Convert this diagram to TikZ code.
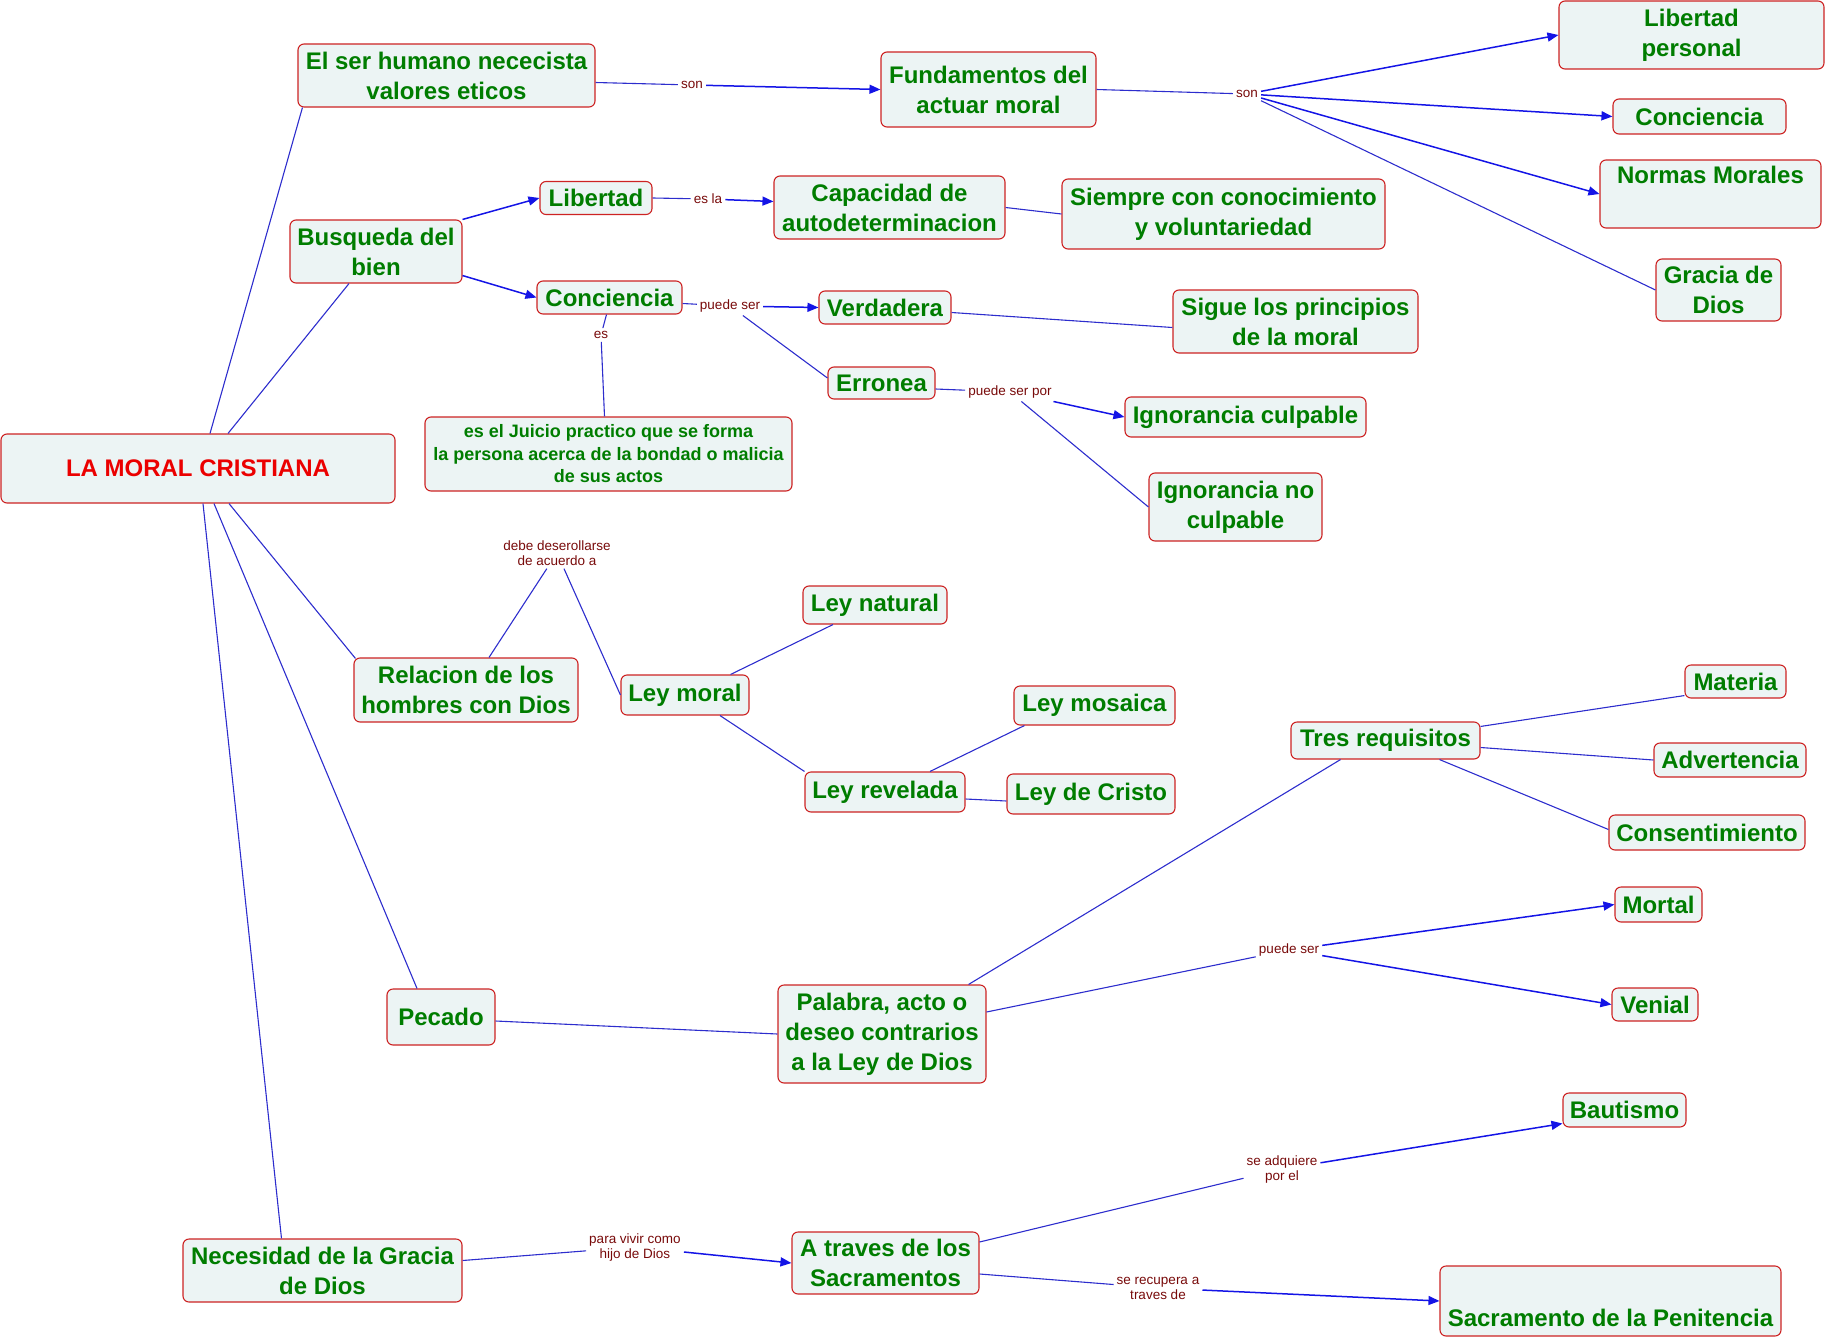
\documentclass[tikz,border=0pt]{standalone}
\usepackage{fontspec}
\setmainfont{Liberation Sans}
\usetikzlibrary{arrows.meta,calc}
\definecolor{nodered}{RGB}{205,35,35}
\definecolor{nodefill}{RGB}{236,244,244}
\definecolor{cgreen}{RGB}{0,125,0}
\definecolor{lmcred}{RGB}{235,0,0}
\definecolor{lred}{RGB}{120,10,10}
\definecolor{lblue}{RGB}{45,45,205}
\definecolor{ablue}{RGB}{20,20,230}
\tikzset{
  concept/.style={draw=nodered, fill=nodefill, rounded corners=6pt, line width=1.1pt,
    text=cgreen, font=\bfseries\fontsize{24}{30}\selectfont, align=center, inner sep=0pt},
  sz/.style 2 args={minimum width=#1pt, minimum height=#2pt},
  linkph/.style={text=lred, font=\fontsize{13.5}{15}\selectfont, align=center, inner sep=3pt},
  conn/.style={draw=lblue, line width=1.1pt},
  arr/.style={draw=ablue, line width=1.5pt, -{Triangle[length=11pt,width=9pt]}}
}
\begin{document}
\begin{tikzpicture}[x=1pt,y=-1pt]
\useasboundingbox (0,0) rectangle (1826,1338);
% concepts
\node[concept,sz={394}{69},text=lmcred] (lmc) at (198,468.5) {LA MORAL CRISTIANA};
\node[concept,sz={297}{63}] (elser) at (446.5,75.5) {El ser humano nececista\\valores eticos};
\node[concept,sz={215}{75}] (fund) at (988.5,89.5) {Fundamentos del\\actuar moral};
\node[concept,sz={265}{68}] (libp) at (1691.5,35) {Libertad\\personal};
\node[concept,sz={173}{35}] (concR) at (1699.5,116.5) {Conciencia};
\node[concept,sz={221}{68}] (normas) at (1710.5,194) {Normas Morales\\\strut};
\node[concept,sz={125}{62}] (gracia) at (1718.5,290) {Gracia de\\Dios};
\node[concept,sz={112}{33}] (libertad) at (596,198) {Libertad};
\node[concept,sz={172}{63}] (busq) at (376,251.5) {Busqueda del\\bien};
\node[concept,sz={231}{63}] (capac) at (889.5,207.5) {Capacidad de\\autodeterminacion};
\node[concept,sz={323}{70}] (siempre) at (1223.5,214) {Siempre con conocimiento\\y voluntariedad};
\node[concept,sz={145}{33}] (concM) at (609.5,297.5) {Conciencia};
\node[concept,sz={132}{33}] (verd) at (885,307.5) {Verdadera};
\node[concept,sz={245}{63}] (sigue) at (1295.5,321.5) {Sigue los principios\\de la moral};
\node[concept,sz={107}{32}] (erronea) at (881.5,383) {Erronea};
\node[concept,sz={241}{40}] (igc) at (1245.5,417) {Ignorancia culpable};
\node[concept,sz={173}{68}] (ignc) at (1235.5,507) {Ignorancia no\\culpable};
\node[concept,sz={367}{74},font=\bfseries\fontsize{18}{22.5}\selectfont] (juicio) at (608.5,454) {es el Juicio practico que se forma\\la persona acerca de la bondad o malicia\\de sus actos};
\node[concept,sz={224}{64}] (relacion) at (466,690) {Relacion de los\\hombres con Dios};
\node[concept,sz={128}{40}] (leymoral) at (685,695) {Ley moral};
\node[concept,sz={144}{38}] (leynat) at (875,605) {Ley natural};
\node[concept,sz={161}{39}] (leymos) at (1094.5,705.5) {Ley mosaica};
\node[concept,sz={160}{40}] (leyrev) at (885,792) {Ley revelada};
\node[concept,sz={168}{40}] (leycr) at (1091,794) {Ley de Cristo};
\node[concept,sz={189}{37}] (tres) at (1385.5,740.5) {Tres requisitos};
\node[concept,sz={101}{33}] (materia) at (1735.5,681.5) {Materia};
\node[concept,sz={152}{34}] (advert) at (1730,760) {Advertencia};
\node[concept,sz={196}{35}] (consent) at (1707,832.5) {Consentimiento};
\node[concept,sz={87}{35}] (mortal) at (1658.5,904.5) {Mortal};
\node[concept,sz={86}{33}] (venial) at (1655,1004.5) {Venial};
\node[concept,sz={108}{56}] (pecado) at (441,1017) {Pecado};
\node[concept,sz={208}{98}] (palabra) at (882,1034) {Palabra, acto o\\deseo contrarios\\a la Ley de Dios};
\node[concept,sz={123}{34}] (bautismo) at (1624.5,1110) {Bautismo};
\node[concept,sz={279}{63}] (necesidad) at (322.5,1270.5) {Necesidad de la Gracia\\de Dios};
\node[concept,sz={187}{62}] (atraves) at (885.5,1263) {A traves de los\\Sacramentos};
\node[concept,sz={341}{70}] (sacramento) at (1610.5,1301) {\strut\\Sacramento de la Penitencia};
% linking phrases
\node[linkph] (lson1) at (692,85) {son};
\node[linkph] (lson2) at (1247,94) {son};
\node[linkph] (lesla) at (708,199) {es la};
\node[linkph] (lpuede1) at (730,306) {puede ser};
\node[linkph] (les) at (601,335) {es};
\node[linkph] (lppor) at (1010,392) {puede ser por};
\node[linkph] (ldebe) at (557,553) {debe deserollarse\\de acuerdo a};
\node[linkph] (lpuede2) at (1289,950) {puede ser};
\node[linkph] (ladq) at (1282,1169) {se adquiere\\por el};
\node[linkph] (lvivir) at (635,1247) {para vivir como\\hijo de Dios};
\node[linkph] (lrecup) at (1158,1288) {se recupera a\\traves de};
% connectors from the root
\draw[conn] ($(lmc.north)+(12,0)$) -- ($(elser.south west)+(5,0)$);
\draw[conn] ($(lmc.north)+(30,0)$) -- ($(busq.south)+(-27,0)$);
\draw[conn] ($(lmc.south)+(31,0)$) -- ($(relacion.north west)+(2,1)$);
\draw[conn] ($(lmc.south)+(16,0)$) -- ($(pecado.north)+(-24,0)$);
\draw[conn] ($(lmc.south)+(5,0)$) -- ($(necesidad.north)+(-41,0)$);
% top branch
\draw[conn] ($(elser.east)+(0,7)$) -- (lson1);
\draw[arr] (lson1) -- (fund.west);
\draw[conn] (fund.east) -- (lson2);
\draw[arr] (lson2) -- (libp.west);
\draw[arr] (lson2) -- (concR.west);
\draw[arr] (lson2) -- (normas.west);
\draw[conn] (lson2) -- (gracia.west);
% busqueda branch
\draw[arr] (busq.north east) -- (libertad.west);
\draw[arr] ($(busq.south east)+(0,-8)$) -- (concM.west);
\draw[conn] (libertad.east) -- (lesla);
\draw[arr] (lesla) -- ($(capac.west)+(0,-6)$);
\draw[conn] (capac.east) -- (siempre.west);
\draw[conn] ($(concM.east)+(0,6)$) -- (lpuede1);
\draw[arr] (lpuede1) -- (verd.west);
\draw[conn] (lpuede1) -- ($(erronea.west)+(0,-5)$);
\draw[conn] ($(concM.south)+(-3,0)$) -- (les);
\draw[conn] (les) -- ($(juicio.north)+(-4,0)$);
\draw[conn] ($(verd.east)+(0,5)$) -- ($(sigue.west)+(0,6)$);
\draw[conn] ($(erronea.east)+(0,6)$) -- (lppor);
\draw[arr] (lppor) -- (igc.west);
\draw[conn] (lppor) -- (ignc.west);
% relacion branch
\draw[conn] ($(relacion.north)+(23,0)$) -- (ldebe);
\draw[conn] (ldebe) -- (leymoral.west);
\draw[conn] ($(leymoral.north east)+(-19,0)$) -- ($(leynat.south)+(-42,0)$);
\draw[conn] ($(leymoral.south)+(35,0)$) -- (leyrev.north west);
\draw[conn] ($(leyrev.north)+(45,0)$) -- ($(leymos.south west)+(11,0)$);
\draw[conn] ($(leyrev.east)+(0,7)$) -- ($(leycr.west)+(0,7)$);
% pecado branch
\draw[conn] ($(pecado.east)+(0,4)$) -- (palabra.west);
\draw[conn] ($(palabra.north east)+(-18,0)$) -- ($(tres.south)+(-45,0)$);
\draw[conn] ($(tres.north east)+(0,5)$) -- ($(materia.south west)+(0,-3)$);
\draw[conn] ($(tres.east)+(0,7)$) -- (advert.west);
\draw[conn] ($(tres.south)+(54,0)$) -- ($(consent.west)+(0,-3)$);
\draw[conn] ($(palabra.east)+(0,-22)$) -- (lpuede2);
\draw[arr] (lpuede2) -- (mortal.west);
\draw[arr] (lpuede2) -- (venial.west);
% gracia branch
\draw[conn] ($(necesidad.east)+(0,-10)$) -- (lvivir);
\draw[arr] (lvivir) -- (atraves.west);
\draw[conn] ($(atraves.east)+(0,-21)$) -- (ladq);
\draw[arr] (ladq) -- ($(bautismo.south west)+(0,-4)$);
\draw[conn] ($(atraves.east)+(0,11)$) -- (lrecup);
\draw[arr] (lrecup) -- (sacramento.west);
\end{tikzpicture}
\end{document}
